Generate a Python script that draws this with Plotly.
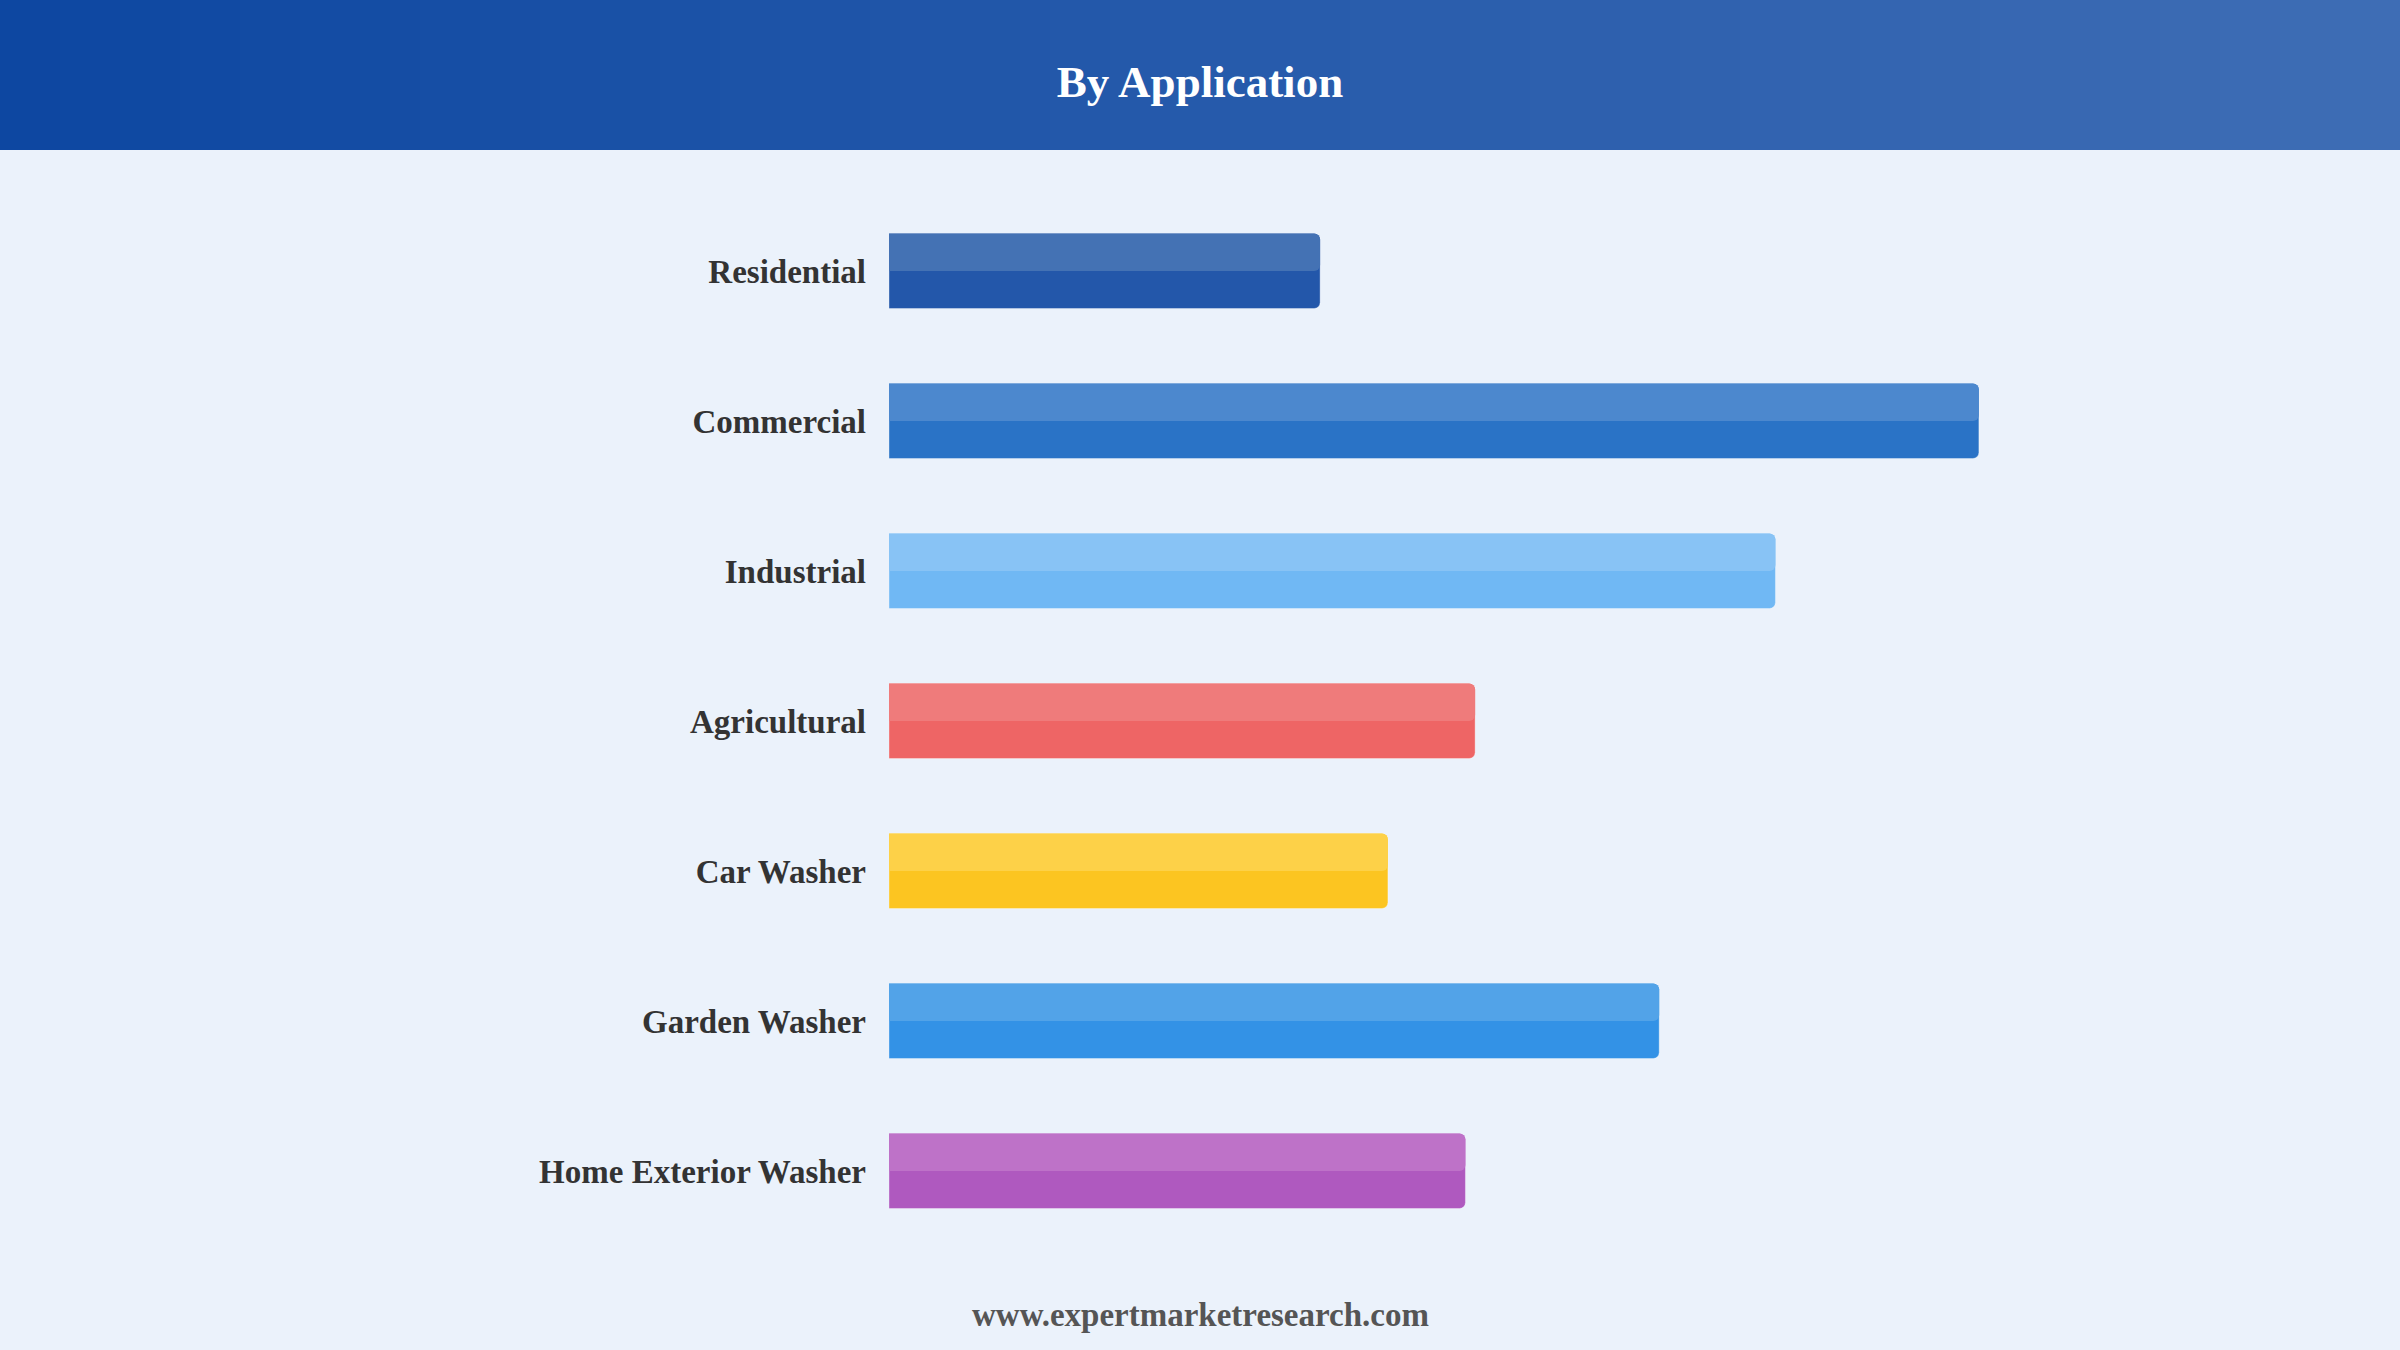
import plotly.graph_objects as go

# data
categories = ["Residential", "Commercial", "Industrial", "Agricultural",
              "Car Washer", "Garden Washer", "Home Exterior Washer"]
values = [8.9, 22.5, 18.3, 12.1, 10.3, 15.9, 11.9]
dark_colors = ["#2357AA", "#2A73C6", "#70B8F4", "#EE6565",
               "#FCC521", "#3392E6", "#AF59BF"]
light_colors = ["#4472B4", "#4C88CE", "#88C3F5", "#EF7B7B",
                "#FDD148", "#52A3E8", "#BE72C8"]

W, H = 2400, 1350
L, R, T, B = 889, 300, 196, 104
pw, ph = W - L - R, H - T - B

fig = go.Figure()

# full bar (darker bottom half shows through)
fig.add_trace(go.Bar(
    y=categories, x=values, orientation="h",
    width=0.5,
    marker=dict(color=dark_colors, line=dict(width=1, color="rgba(255,255,255,0.35)")),
    hoverinfo="x+y", showlegend=False,
))
# lighter top half
fig.add_trace(go.Bar(
    y=categories, x=values, orientation="h",
    width=0.25, offset=-0.25,
    marker=dict(color=light_colors, line=dict(width=0)),
    hoverinfo="skip", showlegend=False,
))

# header gradient band
c0 = (13, 71, 161)
c1 = (62, 109, 181)
n = 80
shapes = []
for i in range(n):
    f = i / (n - 1)
    col = "rgb(%d,%d,%d)" % tuple(round(a + (b - a) * f) for a, b in zip(c0, c1))
    shapes.append(dict(
        type="rect", xref="paper", yref="paper", layer="below",
        x0=(-L + W * i / n) / pw, x1=(-L + W * (i + 1) / n + 1) / pw,
        y0=1 + (T - 150) / ph, y1=1 + T / ph + 0.01,
        fillcolor=col, line=dict(width=0),
    ))

fig.update_layout(
    width=W, height=H,
    margin=dict(l=L, r=R, t=T, b=B),
    paper_bgcolor="#EBF2FB", plot_bgcolor="#EBF2FB",
    barmode="overlay",
    barcornerradius=6,
    shapes=shapes,
    title=dict(text="<b>By Application</b>", x=0.5, xanchor="center",
               xref="container", yref="container", y=1 - 81 / H, yanchor="middle",
               font=dict(family="Liberation Serif", size=45, color="white")),
    xaxis=dict(range=[0, 25], visible=False, fixedrange=True),
    yaxis=dict(autorange="reversed", showgrid=False, zeroline=False, showline=False,
               ticks="", ticklabelstandoff=22,
               tickfont=dict(family="Liberation Serif", size=33, color="#333333"),
               tickprefix="<b>", ticksuffix="</b>", fixedrange=True),
    annotations=[dict(
        text="<b>www.expertmarketresearch.com</b>", xref="paper", yref="paper",
        x=(W / 2 - L) / pw, y=-(1315 - (H - B)) / ph, xanchor="center", yanchor="middle",
        showarrow=False, font=dict(family="Liberation Serif", size=33, color="#555555"),
    )],
)

fig.write_html("out.html", config={"displayModeBar": False},
               post_script="document.body.style.margin='0';document.body.style.overflow='hidden';")
